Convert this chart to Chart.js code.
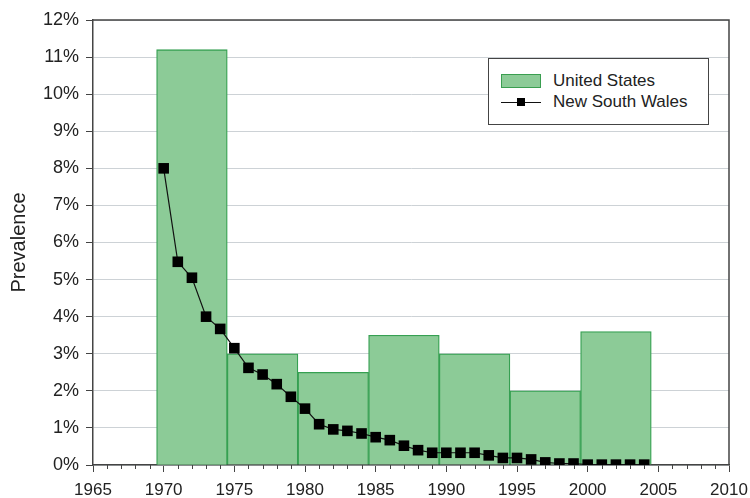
<!DOCTYPE html>
<html>
<head>
<meta charset="utf-8">
<script src="https://cdn.jsdelivr.net/npm/chart.js@4.4.1/dist/chart.umd.min.js"></script>
<style>
  html, body { margin: 0; padding: 0; background: #fff; }
  #wrap { position: relative; width: 750px; height: 498px; }
  #legend {
    position: absolute; left: 488px; top: 58px; width: 219px; height: 65px;
    border: 1.5px solid #444; background: #fff;
    font-family: "Liberation Sans", Arial, sans-serif; font-size: 17px; color: #222;
  }
  .row { position: absolute; left: 12px; height: 20px; display: flex; align-items: center; }
  .swatch { width: 38px; height: 12px; background: #8ccb97; border: 1px solid #3a9e50; margin-right: 12px; }
  .lineSample { position: relative; width: 40px; height: 12px; margin-right: 12px; }
  .lineSample::before { content: ''; position: absolute; left: 0; right: 0; top: 6px; border-top: 1.2px solid #111; }
  .lineSample::after { content: ''; position: absolute; left: 16px; top: 2px; width: 8px; height: 8px; background: #000; }
</style>
</head>
<body>
<div id="wrap">
  <canvas id="chart" width="750" height="498"></canvas>
  <div id="legend">
    <div class="row" style="top:12px"><span class="swatch"></span>United States</div>
    <div class="row" style="top:33px"><span class="lineSample"></span>New South Wales</div>
  </div>
</div>
<script>
/* ===== DATA ===== */
// US: 5-year periods, plotted at period centre (1970-74 -> 1972 etc.)
const US_MID_YEARS  = [1972, 1977, 1982, 1987, 1992, 1997, 2002];
const US_PREVALENCE = [11.2, 3.0, 2.5, 3.5, 3.0, 2.0, 3.6];   // %

const NSW_YEARS = [1970,1971,1972,1973,1974,1975,1976,1977,1978,1979,
                   1980,1981,1982,1983,1984,1985,1986,1987,1988,1989,
                   1990,1991,1992,1993,1994,1995,1996,1997,1998,1999,
                   2000,2001,2002,2003,2004];
const NSW_PREVALENCE = [8.0,5.48,5.05,4.0,3.67,3.15,2.62,2.44,2.18,1.84,
                        1.52,1.1,0.96,0.92,0.85,0.75,0.67,0.52,0.40,0.33,
                        0.33,0.33,0.33,0.26,0.19,0.19,0.15,0.07,0.04,0.04,
                        0.01,0.01,0.01,0.01,0.01];   // %

const X_MIN = 1965, X_MAX = 2010, X_STEP = 5;
const Y_MIN = 0, Y_MAX = 12, Y_STEP = 1;

/* ===== HELPERS ===== */
const FONT = '"Liberation Sans", Arial, sans-serif';
const AXIS_COLOR = '#444';

// yearly minor ticks under the x axis
const minorTicks = {
  id: 'minorTicks',
  afterDraw(chart) {
    const {ctx, scales: {x}} = chart;
    ctx.save();
    ctx.strokeStyle = AXIS_COLOR;
    ctx.lineWidth = 1;
    for (let yr = X_MIN; yr <= X_MAX; yr++) {
      if (yr % X_STEP === 0) continue;
      const px = Math.round(x.getPixelForValue(yr)) + 0.5;
      ctx.beginPath();
      ctx.moveTo(px, x.top);
      ctx.lineTo(px, x.top + 4);
      ctx.stroke();
    }
    ctx.restore();
  }
};

// top + right frame of the plot area
const frame = {
  id: 'frame',
  afterDraw(chart) {
    const {ctx, chartArea: a} = chart;
    ctx.save();
    ctx.strokeStyle = AXIS_COLOR;
    ctx.lineWidth = 1.5;
    ctx.beginPath();
    ctx.moveTo(a.left, a.top);
    ctx.lineTo(a.right, a.top);
    ctx.lineTo(a.right, a.bottom);
    ctx.stroke();
    ctx.restore();
  }
};

/* ===== CHART ===== */
new Chart(document.getElementById('chart'), {
  data: {
    datasets: [
      {
        type: 'line',
        label: 'New South Wales',
        data: NSW_YEARS.map((yr, i) => ({x: yr, y: NSW_PREVALENCE[i]})),
        borderColor: '#111',
        borderWidth: 1.2,
        pointStyle: 'rect',
        pointRadius: 7.5,
        pointBackgroundColor: '#000',
        pointBorderColor: '#000',
        pointBorderWidth: 0,
        tension: 0,
        order: 0
      },
      {
        type: 'bar',
        label: 'United States',
        data: US_MID_YEARS.map((yr, i) => ({x: yr, y: US_PREVALENCE[i]})),
        backgroundColor: '#8ccb97',
        borderColor: '#36a052',
        borderWidth: 1.3,
        barPercentage: 1,
        categoryPercentage: 1,
        grouped: false,
        order: 1
      }
    ]
  },
  options: {
    responsive: false,
    animation: false,
    layout: {padding: {top: 20, right: 21, left: 0, bottom: 0}},
    plugins: {legend: {display: false}, tooltip: {enabled: false}},
    scales: {
      x: {
        type: 'linear',
        min: X_MIN, max: X_MAX,
        offset: false,
        afterFit: s => { s.height = 33; s.paddingLeft = 0; s.paddingRight = 0; },
        ticks: {stepSize: X_STEP, color: '#222', padding: 8, maxRotation: 0,
                font: {family: FONT, size: 17},
                callback: v => String(v)},
        grid: {drawOnChartArea: false, offset: false, tickLength: 7, tickColor: AXIS_COLOR},
        border: {color: AXIS_COLOR, width: 1.5}
      },
      y: {
        min: Y_MIN, max: Y_MAX,
        afterFit: s => { s.width = 93; },
        ticks: {stepSize: Y_STEP, color: '#222', padding: 7,
                font: {family: FONT, size: 18},
                callback: v => v + '%'},
        grid: {color: '#cdd2d6', lineWidth: 1, tickLength: 7, tickColor: AXIS_COLOR},
        border: {color: AXIS_COLOR, width: 1.5},
        title: {display: true, text: 'Prevalence', color: '#222',
                font: {family: FONT, size: 20}, padding: {top: 7, bottom: 0}}
      }
    }
  },
  plugins: [minorTicks, frame]
});
</script>
</body>
</html>
